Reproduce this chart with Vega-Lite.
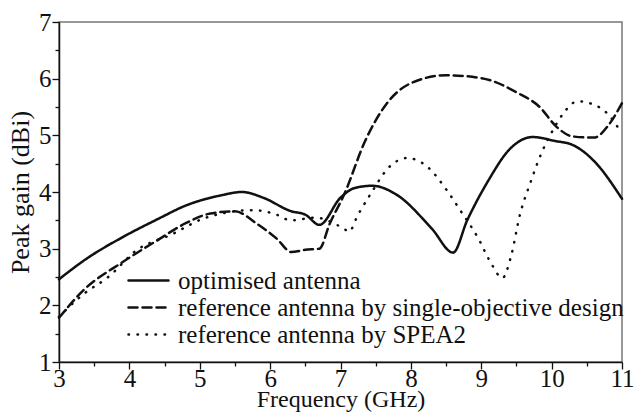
{
  "$schema": "https://vega.github.io/schema/vega-lite/v6.json",
  "width": 563,
  "height": 340,
  "autosize": "none",
  "padding": {"left": 59, "top": 22, "right": 13, "bottom": 50},
  "background": "white",
  "config": {
    "view": {"stroke": "#777", "strokeWidth": 1.5},
    "font": "Liberation Serif",
    "axis": {
      "grid": false,
      "domainColor": "#111",
      "domainWidth": 1.5,
      "tickColor": "#111",
      "tickWidth": 1.3,
      "labelColor": "#111",
      "titleColor": "#111",
      "labelFont": "Liberation Serif",
      "titleFont": "Liberation Serif",
      "labelFontSize": 25,
      "titleFontSize": 24,
      "titleFontWeight": "normal"
    }
  },
  "data": {
    "values": [
      {"f": 3.0, "g": 2.46, "s": "optimised antenna"},
      {"f": 3.4, "g": 2.83, "s": "optimised antenna"},
      {"f": 3.9, "g": 3.2, "s": "optimised antenna"},
      {"f": 4.4, "g": 3.52, "s": "optimised antenna"},
      {"f": 4.8, "g": 3.76, "s": "optimised antenna"},
      {"f": 5.3, "g": 3.94, "s": "optimised antenna"},
      {"f": 5.6, "g": 4.0, "s": "optimised antenna"},
      {"f": 5.9, "g": 3.9, "s": "optimised antenna"},
      {"f": 6.3, "g": 3.66, "s": "optimised antenna"},
      {"f": 6.5, "g": 3.6, "s": "optimised antenna"},
      {"f": 6.7, "g": 3.42, "s": "optimised antenna"},
      {"f": 7.0, "g": 3.9, "s": "optimised antenna"},
      {"f": 7.2, "g": 4.07, "s": "optimised antenna"},
      {"f": 7.45, "g": 4.11, "s": "optimised antenna"},
      {"f": 7.8, "g": 3.95, "s": "optimised antenna"},
      {"f": 8.3, "g": 3.35, "s": "optimised antenna"},
      {"f": 8.6, "g": 2.93, "s": "optimised antenna"},
      {"f": 8.8, "g": 3.5, "s": "optimised antenna"},
      {"f": 9.1, "g": 4.2, "s": "optimised antenna"},
      {"f": 9.4, "g": 4.75, "s": "optimised antenna"},
      {"f": 9.73, "g": 4.97, "s": "optimised antenna"},
      {"f": 10.05, "g": 4.9, "s": "optimised antenna"},
      {"f": 10.3, "g": 4.83, "s": "optimised antenna"},
      {"f": 10.6, "g": 4.55, "s": "optimised antenna"},
      {"f": 11.0, "g": 3.88, "s": "optimised antenna"},

      {"f": 3.0, "g": 1.78, "s": "reference antenna by single-objective design"},
      {"f": 3.35, "g": 2.27, "s": "reference antenna by single-objective design"},
      {"f": 3.9, "g": 2.76, "s": "reference antenna by single-objective design"},
      {"f": 4.4, "g": 3.15, "s": "reference antenna by single-objective design"},
      {"f": 4.8, "g": 3.45, "s": "reference antenna by single-objective design"},
      {"f": 5.15, "g": 3.62, "s": "reference antenna by single-objective design"},
      {"f": 5.5, "g": 3.66, "s": "reference antenna by single-objective design"},
      {"f": 5.8, "g": 3.45, "s": "reference antenna by single-objective design"},
      {"f": 6.1, "g": 3.17, "s": "reference antenna by single-objective design"},
      {"f": 6.3, "g": 2.94, "s": "reference antenna by single-objective design"},
      {"f": 6.5, "g": 2.98, "s": "reference antenna by single-objective design"},
      {"f": 6.7, "g": 3.0, "s": "reference antenna by single-objective design"},
      {"f": 6.85, "g": 3.45, "s": "reference antenna by single-objective design"},
      {"f": 7.05, "g": 3.95, "s": "reference antenna by single-objective design"},
      {"f": 7.35, "g": 4.9, "s": "reference antenna by single-objective design"},
      {"f": 7.65, "g": 5.55, "s": "reference antenna by single-objective design"},
      {"f": 8.0, "g": 5.92, "s": "reference antenna by single-objective design"},
      {"f": 8.5, "g": 6.06, "s": "reference antenna by single-objective design"},
      {"f": 9.0, "g": 6.01, "s": "reference antenna by single-objective design"},
      {"f": 9.5, "g": 5.76, "s": "reference antenna by single-objective design"},
      {"f": 9.83, "g": 5.5, "s": "reference antenna by single-objective design"},
      {"f": 10.07, "g": 5.15, "s": "reference antenna by single-objective design"},
      {"f": 10.3, "g": 4.98, "s": "reference antenna by single-objective design"},
      {"f": 10.6, "g": 4.96, "s": "reference antenna by single-objective design"},
      {"f": 10.82, "g": 5.2, "s": "reference antenna by single-objective design"},
      {"f": 11.0, "g": 5.57, "s": "reference antenna by single-objective design"},

      {"f": 3.0, "g": 1.8, "s": "reference antenna by SPEA2"},
      {"f": 3.35, "g": 2.2, "s": "reference antenna by SPEA2"},
      {"f": 3.7, "g": 2.5, "s": "reference antenna by SPEA2"},
      {"f": 4.1, "g": 2.97, "s": "reference antenna by SPEA2"},
      {"f": 4.6, "g": 3.25, "s": "reference antenna by SPEA2"},
      {"f": 5.05, "g": 3.53, "s": "reference antenna by SPEA2"},
      {"f": 5.4, "g": 3.64, "s": "reference antenna by SPEA2"},
      {"f": 5.75, "g": 3.68, "s": "reference antenna by SPEA2"},
      {"f": 6.05, "g": 3.62, "s": "reference antenna by SPEA2"},
      {"f": 6.3, "g": 3.5, "s": "reference antenna by SPEA2"},
      {"f": 6.65, "g": 3.55, "s": "reference antenna by SPEA2"},
      {"f": 6.85, "g": 3.48, "s": "reference antenna by SPEA2"},
      {"f": 7.05, "g": 3.35, "s": "reference antenna by SPEA2"},
      {"f": 7.12, "g": 3.3, "s": "reference antenna by SPEA2"},
      {"f": 7.25, "g": 3.6, "s": "reference antenna by SPEA2"},
      {"f": 7.42, "g": 3.95, "s": "reference antenna by SPEA2"},
      {"f": 7.7, "g": 4.45, "s": "reference antenna by SPEA2"},
      {"f": 7.95, "g": 4.6, "s": "reference antenna by SPEA2"},
      {"f": 8.23, "g": 4.45, "s": "reference antenna by SPEA2"},
      {"f": 8.5, "g": 4.05, "s": "reference antenna by SPEA2"},
      {"f": 8.7, "g": 3.68, "s": "reference antenna by SPEA2"},
      {"f": 8.95, "g": 3.2, "s": "reference antenna by SPEA2"},
      {"f": 9.15, "g": 2.72, "s": "reference antenna by SPEA2"},
      {"f": 9.3, "g": 2.48, "s": "reference antenna by SPEA2"},
      {"f": 9.42, "g": 2.85, "s": "reference antenna by SPEA2"},
      {"f": 9.55, "g": 3.6, "s": "reference antenna by SPEA2"},
      {"f": 9.7, "g": 4.17, "s": "reference antenna by SPEA2"},
      {"f": 9.86, "g": 4.7, "s": "reference antenna by SPEA2"},
      {"f": 10.0, "g": 5.05, "s": "reference antenna by SPEA2"},
      {"f": 10.15, "g": 5.36, "s": "reference antenna by SPEA2"},
      {"f": 10.37, "g": 5.6, "s": "reference antenna by SPEA2"},
      {"f": 10.7, "g": 5.48, "s": "reference antenna by SPEA2"},
      {"f": 10.83, "g": 5.33, "s": "reference antenna by SPEA2"},
      {"f": 11.0, "g": 5.03, "s": "reference antenna by SPEA2"}
    ]
  },
  "mark": {"type": "line", "interpolate": "monotone", "color": "#111", "strokeCap": "round"},
  "encoding": {
    "x": {
      "field": "f",
      "type": "quantitative",
      "scale": {"domain": [3, 11], "nice": false, "zero": false},
      "axis": {
        "title": "Frequency (GHz)",
        "format": "~g",
        "values": [3, 3.5, 4, 4.5, 5, 5.5, 6, 6.5, 7, 7.5, 8, 8.5, 9, 9.5, 10, 10.5, 11],
        "labelExpr": "datum.value % 1 === 0 ? datum.label : ''",
        "tickSize": {"condition": {"test": "datum.value % 1 !== 0", "value": 4}, "value": 7},
        "labelPadding": -3,
        "labelFlush": false,
        "titlePadding": -4
      }
    },
    "y": {
      "field": "g",
      "type": "quantitative",
      "scale": {"domain": [1, 7], "nice": false, "zero": false},
      "axis": {
        "title": "Peak gain (dBi)",
        "titleFontSize": 26,
        "format": "~g",
        "values": [1, 1.5, 2, 2.5, 3, 3.5, 4, 4.5, 5, 5.5, 6, 6.5, 7],
        "labelExpr": "datum.value % 1 === 0 ? datum.label : ''",
        "tickSize": {"condition": {"test": "datum.value % 1 !== 0", "value": 4}, "value": 7},
        "labelPadding": 1,
        "labelFlush": false,
        "titlePadding": 5
      }
    },
    "strokeWidth": {
      "field": "s",
      "type": "nominal",
      "scale": {
        "domain": ["optimised antenna", "reference antenna by single-objective design", "reference antenna by SPEA2"],
        "range": [2.5, 2.5, 3.5]
      },
      "legend": null
    },
    "strokeDash": {
      "field": "s",
      "type": "nominal",
      "sort": ["optimised antenna", "reference antenna by single-objective design", "reference antenna by SPEA2"],
      "scale": {
        "domain": ["optimised antenna", "reference antenna by single-objective design", "reference antenna by SPEA2"],
        "range": [[1, 0], [9, 5], [0.5, 8.5]]
      },
      "legend": {
        "title": null,
        "orient": "none",
        "legendX": 68,
        "legendY": 245,
        "padding": 0,
        "symbolType": "stroke",
        "symbolSize": 1600,
        "symbolStrokeWidth": 2.5,
        "symbolStrokeColor": "#111",
        "labelFont": "Liberation Serif",
        "labelFontSize": 25,
        "labelColor": "#111",
        "labelOffset": 8,
        "labelLimit": 0,
        "clipHeight": 27,
        "rowPadding": 0,
        "encode": {"symbols": {"update": {"strokeCap": {"value": "round"}}}}
      }
    }
  }
}
